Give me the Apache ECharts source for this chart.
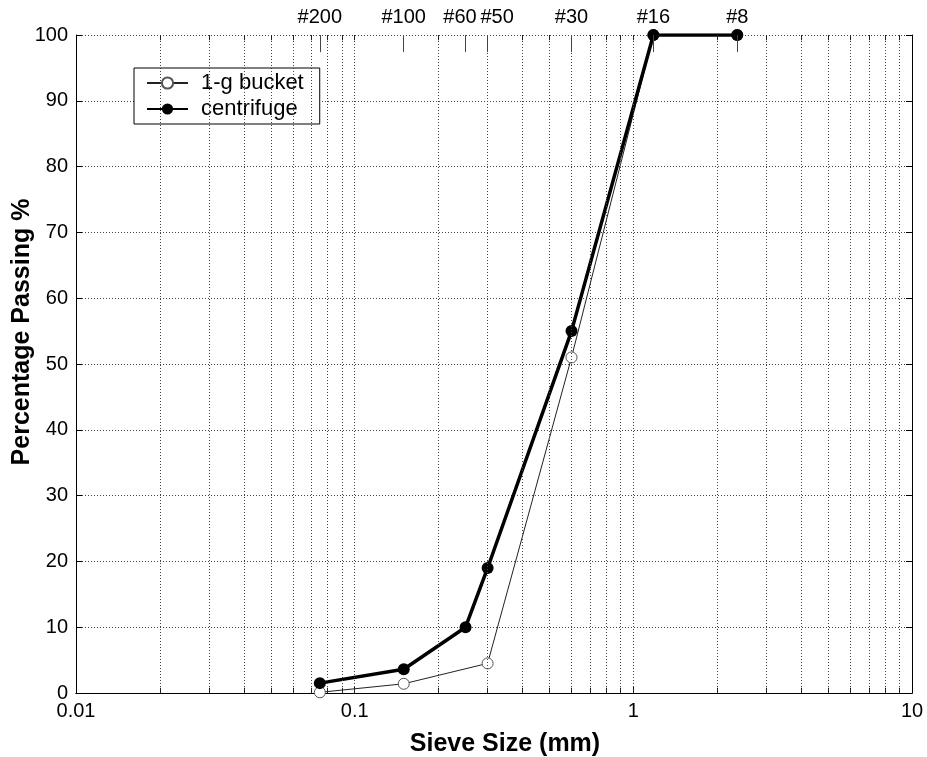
<!DOCTYPE html>
<html>
<head>
<meta charset="utf-8">
<script src="https://cdn.jsdelivr.net/npm/echarts@6/dist/echarts.min.js"></script>
<style>html,body{margin:0;padding:0;background:#fff}#c{width:927px;height:757px}</style>
</head>
<body>
<div id="c"></div>
<script>
// Sieve sizes (mm) and percent passing
const sieveSizes = [0.075, 0.15, 0.25, 0.3, 0.6, 1.18, 2.36];
const sieveLabels = ['#200', '#100', '#60', '#50', '#30', '#16', '#8'];
const bucketX = [0.075, 0.15, 0.3, 0.6, 1.18, 2.36];
const bucketY = [0.1, 1.4, 4.5, 51, 100, 100];
const centX = [0.075, 0.15, 0.25, 0.3, 0.6, 1.18, 2.36];
const centY = [1.5, 3.6, 10, 19, 55, 100, 100];
const minorGrid = [0.02,0.03,0.04,0.05,0.06,0.07,0.08,0.09,0.2,0.3,0.4,0.5,0.6,0.7,0.8,0.9,2,3,4,5,6,7,8,9];
const majorGrid = [0.1, 1];

const FONT = 'Liberation Sans';
const chart = echarts.init(document.getElementById('c'), null, {renderer: 'canvas'});
const gridLine = {type: [1, 2], color: '#444', width: 1};

const minorTickSegs = [];
minorGrid.concat(majorGrid).forEach(v => {
  minorTickSegs.push([{coord: [v, 0]}, {coord: [v, 0.8]}]);
  minorTickSegs.push([{coord: [v, 100]}, {coord: [v, 99.2]}]);
});
const sieveTickSegs = sieveSizes.map(v => [{coord: [v, 100]}, {coord: [v, 97.4]}]);

// label style keys (visual nudge for crowded #60/#50)
const labelStyleKey = {'#60': 'l', '#50': 'r'};

chart.setOption({
  animation: false,
  backgroundColor: '#fff',
  textStyle: {fontFamily: FONT},
  grid: {left: 76, right: 15, top: 35, bottom: 64, containLabel: false, outerBoundsMode: 'none'},
  legend: {
    left: 134, top: 68, orient: 'vertical',
    backgroundColor: '#fff', borderColor: '#000', borderWidth: 1,
    padding: [4, 16, 4, 12], itemGap: 4, itemWidth: 41, itemHeight: 14,
    textStyle: {fontFamily: FONT, fontSize: 22, color: '#000', padding: [0, 0, 0, 8]},
    data: ['1-g bucket', 'centrifuge']
  },
  xAxis: [{
    type: 'log', logBase: 10, min: 0.01, max: 10,
    name: 'Sieve Size (mm)', nameLocation: 'middle', nameGap: 39,
    nameTextStyle: {fontFamily: FONT, fontSize: 25, fontWeight: 'bold', color: '#000', padding: [0, 0, 0, 22]},
    axisLine: {show: true, lineStyle: {color: '#000', width: 1}},
    axisTick: {show: true, inside: true, length: 6, lineStyle: {color: '#000'}},
    axisLabel: {fontFamily: FONT, fontSize: 20, color: '#000', margin: 8,
      formatter: v => String(v)},
    splitLine: {show: false}
  }, {
    type: 'log', logBase: 10, min: 0.01, max: 10, position: 'top',
    axisLine: {show: true, lineStyle: {color: '#000', width: 1}},
    axisTick: {show: false},
    axisLabel: {fontFamily: FONT, fontSize: 20, color: '#000', margin: 8, customValues: sieveSizes,
      formatter: v => {
        const i = sieveSizes.findIndex(s => Math.abs(s - v) < 1e-6);
        if (i < 0) return '';
        const t = sieveLabels[i];
        return labelStyleKey[t] ? '{' + labelStyleKey[t] + '|' + t + '}' : t;
      },
      rich: {
        l: {fontFamily: FONT, fontSize: 20, color: '#000', padding: [0, 11, 0, 0]},
        r: {fontFamily: FONT, fontSize: 20, color: '#000', padding: [0, 0, 0, 19]}
      }},
    splitLine: {show: false}
  }],
  yAxis: [{
    type: 'value', min: 0, max: 100, interval: 10,
    name: 'Percentage Passing %', nameLocation: 'middle', nameGap: 41, nameMoveOverlap: false,
    nameTextStyle: {fontFamily: FONT, fontSize: 25, fontWeight: 'bold', color: '#000', padding: [0, 0, 0, 64]},
    axisLine: {show: true, lineStyle: {color: '#000', width: 1}},
    axisTick: {show: true, inside: true, length: 6, lineStyle: {color: '#000'}},
    axisLabel: {fontFamily: FONT, fontSize: 20, color: '#000', margin: 8},
    splitLine: {show: true, lineStyle: gridLine}
  }, {
    type: 'value', min: 0, max: 100, interval: 10, position: 'right',
    axisLine: {show: true, lineStyle: {color: '#000', width: 1}},
    axisTick: {show: true, inside: true, length: 6, lineStyle: {color: '#000'}},
    axisLabel: {show: false}, splitLine: {show: false}
  }],
  series: [{
    name: 'grid', type: 'line', data: [], z: 1, silent: true,
    markLine: {
      silent: true, symbol: 'none', animation: false,
      label: {show: false},
      lineStyle: gridLine,
      data: minorGrid.concat(majorGrid).map(v => ({xAxis: v}))
    }
  }, {
    name: 'ticks', type: 'line', data: [], z: 2, silent: true,
    markLine: {
      silent: true, symbol: 'none', animation: false,
      label: {show: false},
      lineStyle: {type: 'solid', color: '#222', width: 1},
      data: minorTickSegs
    }
  }, {
    name: 'sieveTicks', type: 'line', data: [], z: 2, silent: true,
    markLine: {
      silent: true, symbol: 'none', animation: false,
      label: {show: false},
      lineStyle: {type: 'solid', color: '#444', width: 1},
      data: sieveTickSegs
    }
  }, {
    name: '1-g bucket', type: 'line', z: 3,
    data: bucketX.map((x, i) => [x, bucketY[i]]),
    symbol: 'circle', symbolSize: 11,
    lineStyle: {color: '#222', width: 1},
    itemStyle: {color: '#fff', borderColor: '#555', borderWidth: 1}
  }, {
    name: 'centrifuge', type: 'line', z: 4,
    data: centX.map((x, i) => [x, centY[i]]),
    symbol: 'circle', symbolSize: 12,
    lineStyle: {color: '#000', width: 3.5},
    itemStyle: {color: '#000'}
  }]
});
</script>
</body>
</html>
